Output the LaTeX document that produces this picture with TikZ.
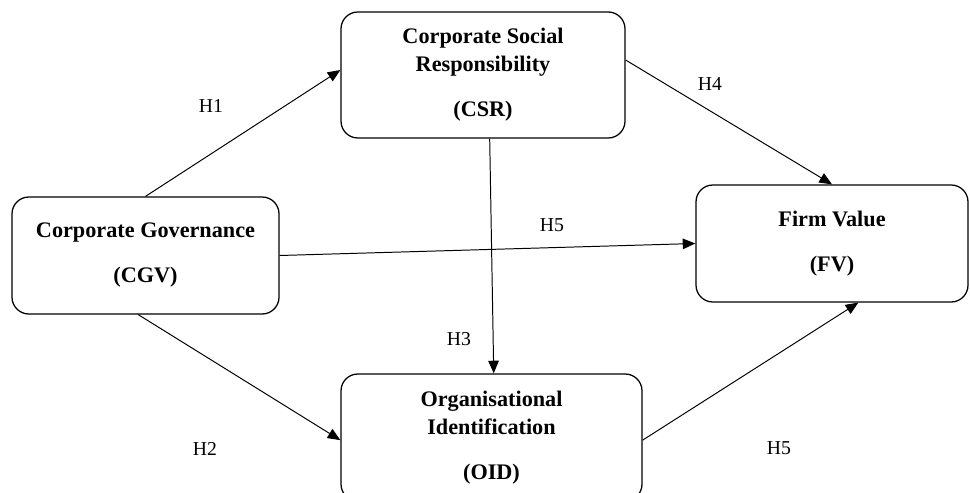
\documentclass[tikz,border=0pt]{standalone}
\usepackage{fontspec}
\setmainfont{Liberation Serif}
\usepackage{tikz}
\usetikzlibrary{arrows.meta}

\tikzset{
  varbox/.style={draw,rounded corners=12pt,line width=0.9pt,align=center,
    font=\fontsize{15.8}{20}\selectfont\bfseries},
  hyp/.style={-{Triangle[length=9pt,width=7.5pt]},line width=0.7pt},
  hlabel/.style={font=\fontsize{14}{16}\selectfont}
}

\begin{document}
\begin{tikzpicture}[x=0.025cm,y=-0.025cm]
        \clip (0,0) rectangle (970,492);
        \node[varbox,minimum width=284*0.025cm,minimum height=126*0.025cm] (csr) at (483,75)
          {Corporate Social\\Responsibility\\[12pt](CSR)};
        \node[varbox,minimum width=267*0.025cm,minimum height=117*0.025cm] (cgv) at (145.5,255.5)
          {Corporate Governance\\[12pt](CGV)};
        \node[varbox,minimum width=272*0.025cm,minimum height=117*0.025cm] (fv) at (832,243.5)
          {Firm Value\\[12pt](FV)};
        \node[varbox,minimum width=301*0.025cm,minimum height=127*0.025cm] (oid) at (491.5,437.5)
          {Organisational\\Identification\\[12pt](OID)};
        % hypotheses
        \draw[hyp] (cgv.north) -- (csr.178);
        \draw[hyp] (cgv.263) -- (oid.181);
        \draw[hyp] (cgv.east) -- (fv.west);
        \draw[hyp] (csr.-84) -- (oid.88);
        \draw[hyp] (csr.6) -- (fv.north);
        \draw[hyp] (oid.-1) -- (fv.-66);
        \node[hlabel] (h1) at (211,106) {H1};
        \node[hlabel] (h2) at (205,449) {H2};
        \node[hlabel] (h5a) at (552,225) {H5};
        \node[hlabel] (h3) at (459,339) {H3};
        \node[hlabel] (h4) at (710,84) {H4};
        \node[hlabel] (h5b) at (779,448) {H5};
      \end{tikzpicture}
\end{document}
